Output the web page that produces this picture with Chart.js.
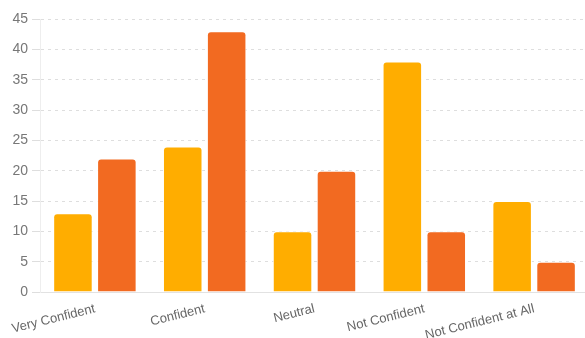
<!DOCTYPE html>
<html>
<head>
<meta charset="utf-8">
<script src="https://cdn.jsdelivr.net/npm/chart.js@4"></script>
<style>
  html, body { margin: 0; padding: 0; background: #fff; overflow: hidden; }
  #wrap { width: 589px; height: 338px; position: relative; }
</style>
</head>
<body>
<div id="wrap"><canvas id="surveyChart"></canvas></div>
<script>
/* data */
const categories = [
  "Very Confident",
  "Confident",
  "Neutral",
  "Not Confident",
  "Not Confident at All"
];

const seriesA = [13, 24, 10, 38, 15];
const seriesB = [22, 43, 20, 10, 5];

const ctx = document.getElementById("surveyChart");

new Chart(ctx, {
  type: "bar",
  data: {
    labels: categories,
    datasets: [
      {
        label: "Group A",
        data: seriesA,
        backgroundColor: "#ffad00",
        borderColor: "#ffffff",
        borderWidth: 1,
        borderRadius: 4,
        borderSkipped: "bottom"
      },
      {
        label: "Group B",
        data: seriesB,
        backgroundColor: "#f26a21",
        borderColor: "#ffffff",
        borderWidth: 1,
        borderRadius: 4,
        borderSkipped: "bottom"
      }
    ]
  },
  options: {
    responsive: true,
    maintainAspectRatio: false,
    animation: false,
    layout: { padding: { top: 19, left: 0, right: 0, bottom: 0 } },
    plugins: {
      legend: { display: false },
      tooltip: { enabled: false }
    },
    scales: {
      x: {
        grid: { display: false },
        border: { color: "#e2e2e2" },
        ticks: {
          color: "#666",
          font: { family: "Liberation Sans", size: 13 },
          minRotation: 14,
          maxRotation: 14,
          padding: 1
        },
        afterFit(scale) { scale.height = 46; }
      },
      y: {
        min: 0,
        max: 45,
        ticks: {
          stepSize: 5,
          color: "#777",
          font: { family: "Liberation Sans", size: 14 },
          padding: 4
        },
        border: { color: "#eeeeee", dash: [3, 4] },
        grid: {
          color: "#dedede",
          tickLength: 8,
          tickColor: "#dedede"
        },
        afterFit(scale) { scale.width = 40; }
      }
    }
  }
});
</script>
</body>
</html>
